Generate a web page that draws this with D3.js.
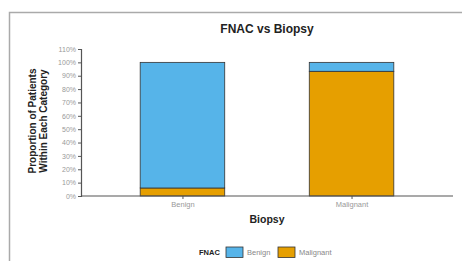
<!DOCTYPE html>
<html>
<head>
<meta charset="utf-8">
<script src="https://cdn.jsdelivr.net/npm/d3@7"></script>
<style>
  body { margin: 0; background: #fff; }
  svg { display: block; font-family: 'Liberation Sans', Arial, sans-serif; }
</style>
</head>
<body>
<div id="chart"></div>
<script>
// data: share of each FNAC result within each biopsy category
const categories = ['Benign', 'Malignant'];
const fnacGroups = ['Malignant', 'Benign']; // stacking order, bottom first
const benignShare = [0.94, 0.067];
const malignantShare = [0.06, 0.933];
const yTicks = [0, 0.1, 0.2, 0.3, 0.4, 0.5, 0.6, 0.7, 0.8, 0.9, 1.0, 1.1];
const legendLabels = ['Benign', 'Malignant'];

const colors = { Benign: '#56B4E9', Malignant: '#E69F00' };

const width = 462, height = 261;
const margin = { top: 49, right: 9, bottom: 65, left: 81 };

const svg = d3.select('#chart').append('svg')
  .attr('width', width)
  .attr('height', height);

// outer frame (only top and left edges visible)
svg.append('path')
  .attr('d', `M9.5,${height} V12.5 H${width}`)
  .attr('fill', 'none')
  .attr('stroke', '#aaa')
  .attr('stroke-width', 1.5);

const rows = categories.map((c, i) => ({
  category: c,
  Benign: benignShare[i],
  Malignant: malignantShare[i]
}));

const stack = d3.stack().keys(fnacGroups);
const series = stack(rows);

const x = d3.scalePoint()
  .domain(categories)
  .range([margin.left, width - margin.right])
  .padding(0.6);

const barW = x.step() * 0.5;

const y = d3.scaleLinear()
  .domain([0, 1.1])
  .range([height - margin.bottom, margin.top]);

// bars
svg.append('g').selectAll('g')
  .data(series)
  .join('g')
  .attr('fill', d => colors[d.key])
  .selectAll('rect')
  .data(d => d)
  .join('rect')
  .attr('x', d => x(d.data.category) - barW / 2)
  .attr('y', d => y(d[1]))
  .attr('width', barW)
  .attr('height', d => y(d[0]) - y(d[1]))
  .attr('stroke', '#333')
  .attr('stroke-width', 0.8);

// y axis
const yAxis = svg.append('g')
  .attr('transform', `translate(${margin.left},0)`)
  .call(d3.axisLeft(y).tickValues(yTicks).tickFormat(d3.format('.0%')).tickSize(3).tickPadding(2));
yAxis.selectAll('text').attr('fill', '#999').style('font-size', '7px');
yAxis.selectAll('line').attr('stroke', '#555');
yAxis.select('.domain').attr('stroke', '#555').attr('stroke-width', 1.2);

// x axis
const xAxis = svg.append('g')
  .attr('transform', `translate(0,${height - margin.bottom})`)
  .call(d3.axisBottom(x).tickSize(3).tickPadding(3).tickSizeOuter(0));
xAxis.select('.domain').attr('d', `M${margin.left},0H${width - margin.right}`)
  .attr('stroke', '#555').attr('stroke-width', 1.2);
xAxis.selectAll('line').attr('stroke', '#555');
xAxis.selectAll('text').attr('fill', '#999').style('font-size', '7.5px');

// title
svg.append('text')
  .attr('x', 267).attr('y', 33)
  .attr('text-anchor', 'middle')
  .style('font-size', '12px').style('font-weight', 'bold').style('fill', '#222')
  .text('FNAC vs Biopsy');

// axis titles
svg.append('text')
  .attr('x', 267).attr('y', 223)
  .attr('text-anchor', 'middle')
  .style('font-size', '10.5px').style('font-weight', 'bold').style('fill', '#222')
  .text('Biopsy');

const yTitle = svg.append('text')
  .attr('transform', 'translate(36,121) rotate(-90)')
  .attr('text-anchor', 'middle')
  .style('font-size', '10px').style('font-weight', 'bold').style('fill', '#222');
yTitle.append('tspan').attr('x', 0).attr('dy', 0).text('Proportion of Patients');
yTitle.append('tspan').attr('x', 0).attr('dy', 10.5).text('Within Each Category');

// legend
const legend = svg.append('g').attr('transform', 'translate(0,252)');
legend.append('text')
  .attr('x', 199).attr('y', 3)
  .style('font-size', '7.5px').style('font-weight', 'bold').style('fill', '#222')
  .text('FNAC');

const legendX = [226, 278];
legendLabels.forEach((lab, i) => {
  legend.append('rect')
    .attr('x', legendX[i]).attr('y', -5)
    .attr('width', 17).attr('height', 10.5)
    .attr('fill', colors[lab])
    .attr('stroke', '#333').attr('stroke-width', 0.8);
  legend.append('text')
    .attr('x', legendX[i] + 21).attr('y', 3)
    .style('font-size', '7.5px').style('font-weight', 'bold').style('fill', '#888')
    .style('font-weight', 'normal')
    .text(lab);
});
</script>
</body>
</html>
